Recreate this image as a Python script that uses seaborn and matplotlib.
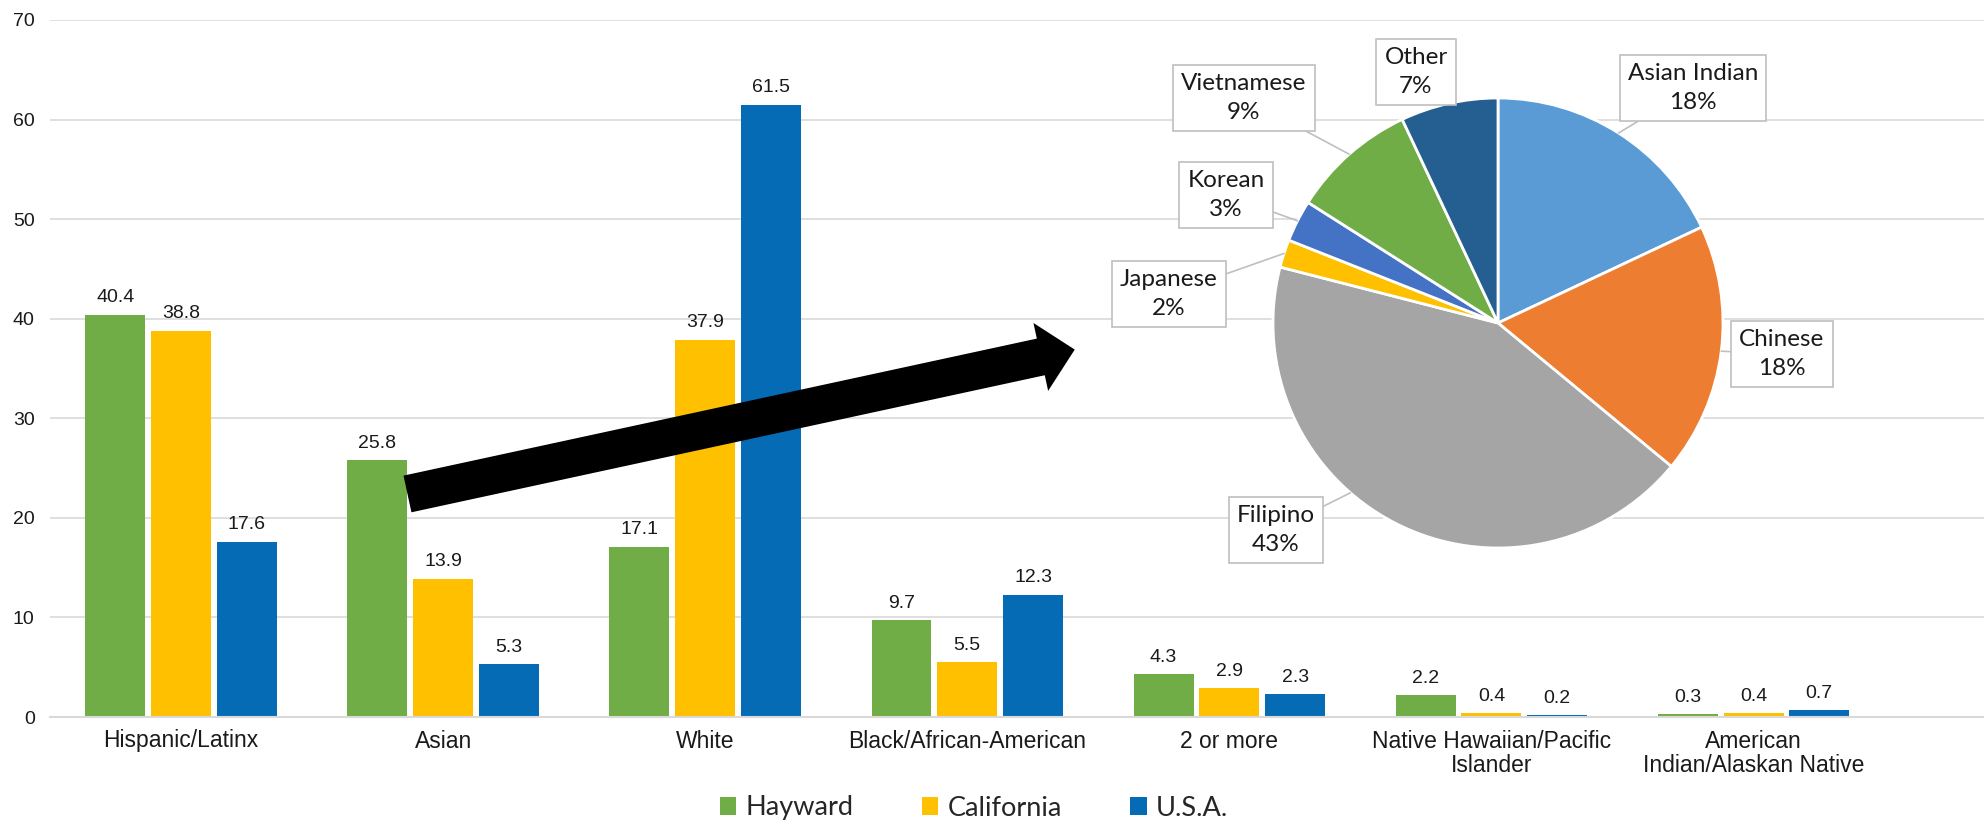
import numpy as np
import pandas as pd
import matplotlib.pyplot as plt
import seaborn as sns
from matplotlib.patches import FancyArrowPatch

# bar chart data (percent of population)
groups = ['Hispanic/Latinx', 'Asian', 'White', 'Black/African-American', '2 or more',
          'Native Hawaiian/Pacific\nIslander', 'American\nIndian/Alaskan Native']
series = ['Hayward', 'California', 'U.S.A.']
hayward = [40.4, 25.8, 17.1, 9.7, 4.3, 2.2, 0.3]
california = [38.8, 13.9, 37.9, 5.5, 2.9, 0.4, 0.4]
usa = [17.6, 5.3, 61.5, 12.3, 2.3, 0.2, 0.7]

# pie data (Asian sub-groups in Hayward)
asian_groups = ['Asian Indian', 'Chinese', 'Filipino', 'Japanese', 'Korean', 'Vietnamese', 'Other']
asian_pct = [18, 18, 43, 2, 3, 9, 7]

bar_colors = {'Hayward': '#70AD47', 'California': '#FFC000', 'U.S.A.': '#056BB5'}
pie_colors = ['#5B9BD5', '#ED7D31', '#A5A5A5', '#FFC000', '#4472C4', '#70AD47', '#255E91']

df = pd.DataFrame({
    'group': groups * 3,
    'series': np.repeat(series, len(groups)),
    'value': hayward + california + usa,
})

sns.set_style('white')
plt.rcParams['font.family'] = ['Liberation Sans', 'DejaVu Sans']

W, H = 1984, 825
fig = plt.figure(figsize=(W / 100, H / 100), dpi=100)

# bar axes
ax = fig.add_axes([50 / W, (H - 717) / H, (W - 50) / W, (717 - 20) / H])
sns.barplot(data=df, x='group', y='value', hue='series', palette=bar_colors,
            width=0.753, gap=0.088, saturation=1, errorbar=None, linewidth=0, ax=ax)

for c in ax.containers:
    ax.bar_label(c, fmt='%.1f', padding=6, fontsize=14, color='#1a1a1a')

ax.set_ylim(0, 70)
ax.set_yticks(range(0, 71, 10))
ax.set_xlim(-0.5, (W - 181.6) / 262)
ax.set_xlabel('')
ax.set_ylabel('')
ax.grid(axis='y', color='#D9D9D9', linewidth=1.2)
ax.set_axisbelow(True)
for s in ['top', 'right', 'left']:
    ax.spines[s].set_visible(False)
ax.spines['bottom'].set_color('#D9D9D9')
ax.spines['bottom'].set_linewidth(1.5)
ax.tick_params(axis='both', length=0, colors='#1a1a1a')
ax.tick_params(axis='y', pad=11, labelsize=14)
ax.tick_params(axis='x', pad=9, labelsize=16.5)
for t in ax.get_xticklabels():
    t.set_linespacing(1.1)

# legend at the bottom
handles, labels = ax.get_legend_handles_labels()
ax.legend_.remove()
fig.legend(handles, labels, loc='center', bbox_to_anchor=(974 / W, 1 - 808 / H), ncol=3,
           frameon=False, prop={'family': 'Lato', 'size': 19.5},
           handlelength=0.62, handleheight=0.62, handletextpad=0.35, columnspacing=2.5)

# big black arrow pointing at the pie
arrow = FancyArrowPatch((0.864, 22.4), (3.41, 36.9),
                        arrowstyle='simple,head_length=25,head_width=50,tail_width=27',
                        mutation_scale=1, fc='black', ec='none', shrinkA=0, shrinkB=0, zorder=6)
ax.add_patch(arrow)

# pie chart
cx, cy, r = 1498, 323, 225
pax = fig.add_axes([(cx - r) / W, (H - cy - r) / H, 2 * r / W, 2 * r / H])
wedges, _ = pax.pie(asian_pct, colors=pie_colors, startangle=90, counterclock=False,
                    wedgeprops=dict(edgecolor='white', linewidth=2))
pax.set_xlim(-1, 1)
pax.set_ylim(-1, 1)
pax.axis('off')

box_px = {'Asian Indian': (1693, 88), 'Chinese': (1782, 354), 'Filipino': (1276, 530),
          'Japanese': (1169, 294), 'Korean': (1226, 195), 'Vietnamese': (1244, 98),
          'Other': (1416, 72)}
tip_angle = {'Filipino': -131}

for w, name, pct in zip(wedges, asian_groups, asian_pct):
    ang = tip_angle.get(name, (w.theta1 + w.theta2) / 2)
    tip = (np.cos(np.radians(ang)), np.sin(np.radians(ang)))
    bx, by = box_px[name]
    pax.annotate(f'{name}\n{pct}%', xy=tip, xytext=((bx - cx) / r, (cy - by) / r),
                 ha='center', va='center', fontsize=17.5, family='Lato', color='#1a1a1a',
                 linespacing=1.45, annotation_clip=False, zorder=7,
                 bbox=dict(boxstyle='square,pad=0.33', fc='white', ec='#BFBFBF', lw=1.2),
                 arrowprops=dict(arrowstyle='-', color='#BFBFBF', lw=1.2, shrinkA=0, shrinkB=0))

fig.savefig('out.png', dpi=100)
